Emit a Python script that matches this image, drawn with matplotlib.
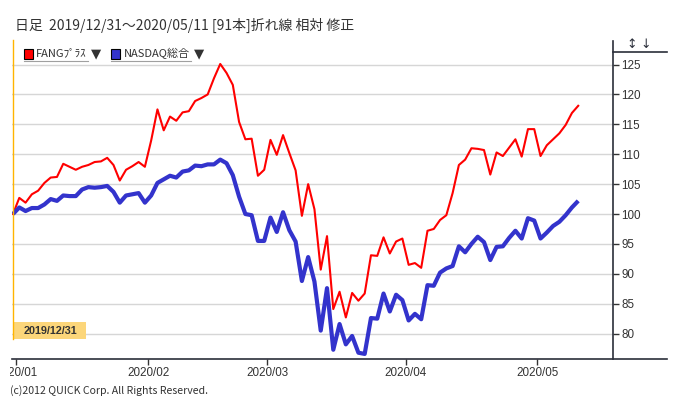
import matplotlib
matplotlib.use("Agg")
import matplotlib.pyplot as plt
import matplotlib.transforms as mtransforms
from matplotlib.lines import Line2D
from matplotlib.patches import Rectangle
import pandas as pd

# ---- data ----
holidays = ["2020-01-01", "2020-01-20", "2020-02-17", "2020-04-10"]
dates = pd.bdate_range("2019-12-31", "2020-05-11", freq="C", holidays=holidays)

fang_plus = [100.0, 102.7, 101.9, 103.3, 103.9, 105.2, 106.1, 106.2, 108.4, 107.9,
             107.4, 107.9, 108.2, 108.7, 108.8, 109.4, 108.2, 105.6, 107.4, 108.0,
             108.7, 107.9, 112.3, 117.5, 114.0, 116.3, 115.6, 117.0, 117.2, 118.9,
             119.4, 120.0, 122.7, 125.1, 123.6, 121.6, 115.4, 112.5, 112.6, 106.4,
             107.4, 112.4, 109.9, 113.2, 110.2, 107.3, 99.7, 105.0, 100.8, 90.7,
             96.3, 84.1, 87.0, 82.7, 86.8, 85.5, 86.7, 93.1, 93.0, 96.1,
             93.4, 95.4, 95.9, 91.5, 91.8, 91.0, 97.2, 97.5, 99.0, 99.8,
             103.5, 108.2, 109.1, 111.0, 110.9, 110.7, 106.6, 110.3, 109.7, 111.1,
             112.5, 109.6, 114.2, 114.2, 109.7, 111.5, 112.5, 113.5, 114.9, 116.9,
             118.1]

nasdaq = [100.0, 101.1, 100.5, 101.0, 101.0, 101.6, 102.5, 102.2, 103.1, 103.0,
          103.0, 104.1, 104.5, 104.4, 104.5, 104.7, 103.7, 101.9, 103.1, 103.3,
          103.5, 101.9, 103.1, 105.2, 105.8, 106.4, 106.1, 107.1, 107.3, 108.1,
          108.0, 108.3, 108.3, 109.1, 108.5, 106.5, 102.9, 100.0, 99.8, 95.5,
          95.5, 99.4, 97.0, 100.3, 97.3, 95.4, 88.8, 92.8, 88.7, 80.5,
          87.6, 77.3, 81.6, 78.2, 79.6, 76.8, 76.6, 82.6, 82.5, 86.7,
          83.7, 86.5, 85.6, 82.2, 83.3, 82.4, 88.1, 88.0, 90.2, 90.9,
          91.3, 94.6, 93.6, 95.0, 96.2, 95.3, 92.3, 94.5, 94.6, 96.0,
          97.2, 95.9, 99.3, 98.9, 95.9, 96.9, 98.0, 98.7, 99.8, 101.1,
          102.2]

series_names = ["FANGﾌﾟﾗｽ", "NASDAQ総合"]
series_colors = ["#ff0000", "#3333cc"]
y_ticks = [80, 85, 90, 95, 100, 105, 110, 115, 120, 125]
title = "日足  2019/12/31～2020/05/11 [91本]折れ線 相対 修正"
base_label = "2019/12/31"
footer = "(c)2012 QUICK Corp. All Rights Reserved."

# ---- figure ----
W, H = 679, 408
fig = plt.figure(figsize=(W / 100, H / 100), dpi=100)

def fx(px):
    return px / W

def fy(py):
    return 1 - py / H

ax_l, ax_r, ax_t, ax_b = 12, 613, 52, 359
ax = fig.add_axes([fx(ax_l), fy(ax_b), fx(ax_r - ax_l), fy(ax_t) - fy(ax_b)])

x = list(range(len(dates)))
ax.plot(x, fang_plus, color=series_colors[0], lw=1.5, zorder=3,
        solid_joinstyle="round")
ax.plot(x, nasdaq, color=series_colors[1], lw=3.0, zorder=4,
        solid_joinstyle="round", solid_capstyle="butt")

ax.set_xlim(-0.16, 95.54)
ax.set_ylim(75.75, 127.1)

ax.set_yticks(y_ticks)
ax.yaxis.tick_right()
ax.grid(axis="y", color="#d6d6d6", lw=1.0)
ax.set_axisbelow(True)
ax.tick_params(axis="y", which="both", direction="out", length=4, width=1,
               color="#333333", labelcolor="#333333", labelsize=8.4, pad=2)
for lb in ax.get_yticklabels():
    lb.set_fontfamily("Liberation Sans")

# month ticks at the first trading day of each month
month_idx = [i for i in range(1, len(dates)) if dates[i].month != dates[i - 1].month]
ax.set_xticks([i - 0.5 for i in month_idx])
ax.set_xticklabels([dates[i].strftime("%Y/%m") for i in month_idx])
ax.tick_params(axis="x", direction="out", length=4, width=1, color="#333333",
               labelcolor="#333333", labelsize=8.4, pad=2)
clipbox = mtransforms.Bbox.from_extents(10, 0, W, H)
for lb in ax.get_xticklabels():
    lb.set_fontfamily("Liberation Sans")
    lb.set_clip_on(True)
    lb.set_clip_box(clipbox)

for s in ["top", "left", "right", "bottom"]:
    ax.spines[s].set_visible(False)

dark = "#2b2f3a"
fig.add_artist(Line2D([fx(ax_l), fx(667)], [fy(ax_b), fy(ax_b)], color=dark, lw=1.2))
fig.add_artist(Line2D([fx(ax_r), fx(ax_r)], [fy(ax_b), fy(41)], color=dark, lw=1.2))
fig.add_artist(Line2D([fx(ax_r), fx(667)], [fy(ax_t), fy(ax_t)], color=dark, lw=1.2))
fig.text(fx(632), fy(45), "↕", fontsize=9, color=dark, ha="center", va="center",
         family="DejaVu Sans")
fig.text(fx(646), fy(45), "↓", fontsize=9, color=dark, ha="center", va="center",
         family="DejaVu Sans")

# base date vertical line and label
fig.add_artist(Line2D([fx(13), fx(13)], [fy(339), fy(40)], color="#ffb400", lw=1.0))
fig.add_artist(Rectangle((fx(13), fy(339)), fx(86 - 13), fy(322) - fy(339),
                         facecolor="#fcd67a", edgecolor="none"))
fig.text(fx(50), fy(330.5), base_label, fontsize=7.8, fontweight="bold",
         color="#333333", ha="center", va="center", family="Liberation Sans")

# title
fig.text(fx(15), fy(25), title, fontsize=10, color="#333333", ha="left", va="center",
         family=["Noto Sans CJK JP", "DejaVu Sans"])

# legend
leg_items = [(24, 36, 91), (111, 124, 194)]
for (sq_x, tx_x, arr_x), name, col in zip(leg_items, series_names, series_colors):
    fig.add_artist(Rectangle((fx(sq_x), fy(58.5)), fx(9), fy(49) - fy(58.5),
                             facecolor=col, edgecolor="black", lw=0.8))
    fig.text(fx(tx_x), fy(53.5), name, fontsize=8, color="#333333",
             ha="left", va="center", family=["Noto Sans CJK JP", "DejaVu Sans"])
    fig.text(fx(arr_x), fy(53.5), "▼", fontsize=9.5, color="#333333",
             ha="left", va="center", family="DejaVu Sans")
    fig.add_artist(Line2D([fx(sq_x), fx(arr_x - 3)], [fy(60.5), fy(60.5)],
                          color="#a0a0a0", lw=0.8))

# footer
fig.text(fx(10), fy(391), footer, fontsize=7.6, color="#333333", ha="left", va="center",
         family=["Noto Sans CJK JP", "DejaVu Sans"])

fig.savefig("out.png", dpi=100)
